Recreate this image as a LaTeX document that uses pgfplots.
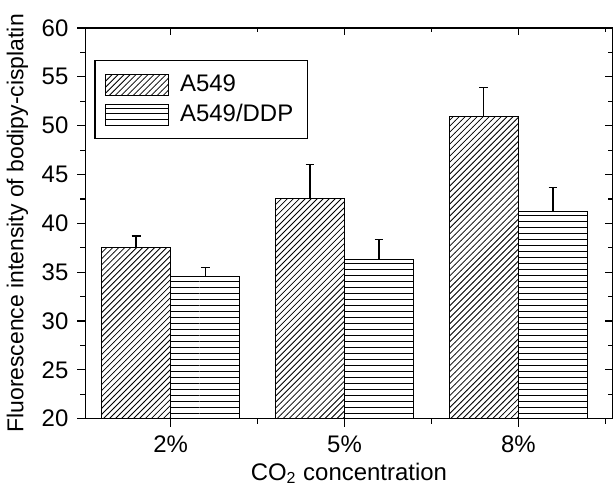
\documentclass[border=0pt]{standalone}
\usepackage{fontspec}
\setmainfont{Liberation Sans}
\usepackage{pgfplots}
\pgfplotsset{compat=1.18}
\usetikzlibrary{patterns}

\begin{document}
\begin{tikzpicture}
\pgfplotsset{
  base/.style={
    scale only axis, width=263bp, height=195bp,
    xmin=-0.49, xmax=2.54, ymin=20, ymax=60,
    axis line style={line width=0.7pt, black},
    tick style={line width=0.6pt, black},
    xtick={0,1,2}, minor xtick={0.5,1.5,2.5},
    ytick={20,25,...,60}, minor ytick={22.5,27.5,...,57.5},
  },
  barleg/.style={legend image code/.code={%
    \draw[##1,/tikz/.cd,line width=0.5pt] (0bp,-5.25bp) rectangle (31.5bp,5.25bp);
    \path (35bp,0bp);}},
}
\begin{axis}[base,
  name=ax,
  ybar=0pt, bar width=34.5bp,
  xticklabels={2\%,5\%,8\%},
  xtick pos=left, ytick pos=left, tick align=outside,
  major tick length=4bp, minor tick length=2.5bp,
  /pgf/number format/assume math mode=true,
  tick label style={font=\fontsize{12}{14}\selectfont},
  xticklabel style={yshift=-1bp},
  yticklabel style={xshift=-1bp},
  label style={font=\fontsize{12}{14}\selectfont},
  xlabel={CO\textsubscript{2} concentration},
  xlabel style={at={(axis description cs:0.5,0)}, anchor=north, inner sep=0bp,
    text depth=3bp, yshift=-21.8bp},
  ylabel={Fluorescence intensity of bodipy-cisplatin},
  ylabel style={font=\fontsize{11.5}{14}\selectfont},
  legend cell align=left,
  legend style={at={(0.017,0.918)}, anchor=north west, draw=black,
    line width=0.6pt, inner xsep=5bp, inner ysep=5bp, row sep=1bp,
    font=\fontsize{12}{14}\selectfont},
  error bars/y dir=plus, error bars/y explicit,
  error bars/error bar style={line width=0.6pt, black},
  error bars/error mark options={rotate=90, line width=0.6pt, black, mark size=2.2bp},
]
\addplot[barleg, draw=black, line width=0.5pt, pattern=north east lines] coordinates {
  (0,37.5) +- (0,1.2)
  (1,42.5) +- (0,3.5)
  (2,50.9) +- (0,3.0)
};
\addlegendentry{A549}
\addplot[barleg, draw=black, line width=0.5pt, pattern=horizontal lines] coordinates {
  (0,34.6) +- (0,0.85)
  (1,36.3) +- (0,2.05)
  (2,41.2) +- (0,2.45)
};
\addlegendentry{A549/DDP}
\end{axis}
\begin{axis}[base,
  xticklabels={}, yticklabels={},
  every tick label/.append style={overlay},
  xtick pos=right, ytick pos=right, tick align=inside,
  major tick length=3.5bp, minor tick length=2bp,
]
\end{axis}
\path ([yshift=14bp]ax.north west);
\end{tikzpicture}
\end{document}
